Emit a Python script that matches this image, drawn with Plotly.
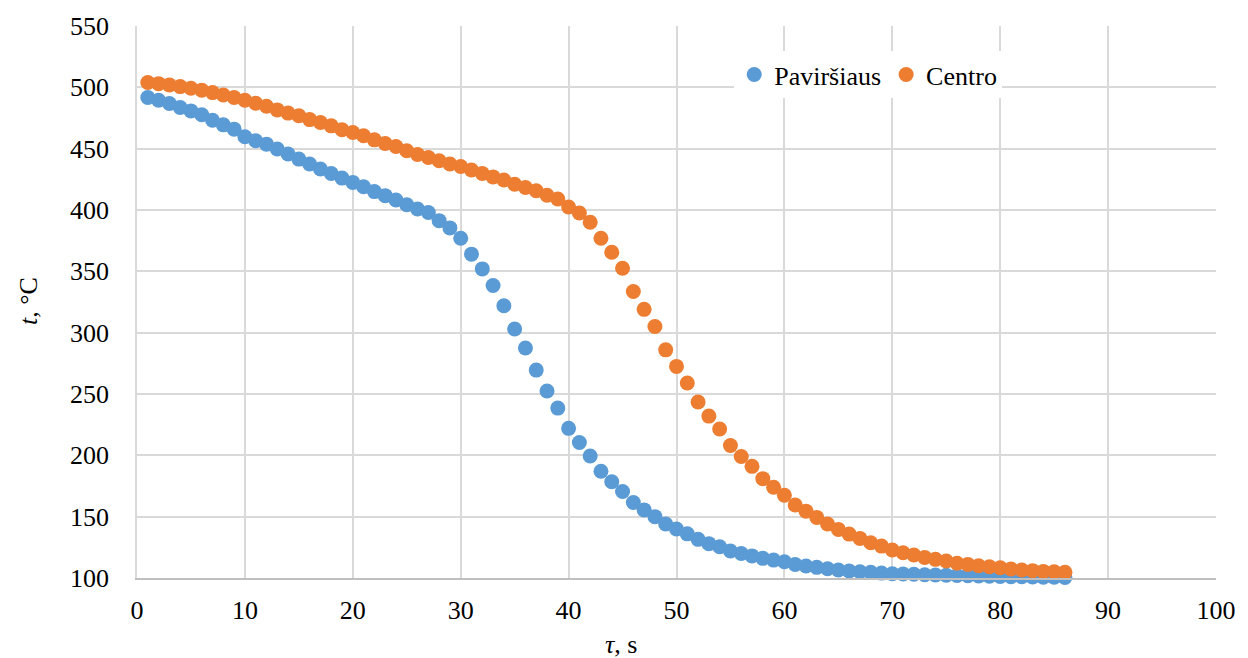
import plotly.graph_objects as go

tau = list(range(1, 87))

pavirsiaus = [
    491.7, 489.5, 486.8, 483.5, 480.8, 477.6, 473.2, 469.4, 465.9, 459.7,
    456.4, 453.7, 449.7, 445.6, 441.5, 437.5, 433.4, 429.8, 426.0, 422.5,
    419.0, 415.0, 411.7, 408.2, 404.3, 400.8, 398.0, 391.3, 385.4, 377.0,
    364.0, 352.0, 338.5, 322.0, 303.0, 287.5, 269.5, 252.5, 238.5, 222.0,
    210.5, 199.5, 187.0, 178.5, 170.5, 161.5, 155.5, 150.0, 144.0, 140.0,
    136.0, 131.5, 128.0, 125.5, 122.0, 120.0, 118.0, 116.0, 114.6, 113.2,
    111.0, 109.8, 108.7, 107.6, 106.5, 105.7, 105.1, 104.6, 104.0, 103.5,
    103.2, 103.0, 102.7, 102.4, 102.2, 102.0, 101.8, 101.6, 101.4, 101.2,
    101.1, 101.0, 100.8, 100.7, 100.6, 100.5,
]

centro = [
    504.0, 503.0, 502.0, 500.6, 499.3, 497.7, 495.7, 493.8, 491.7, 489.5,
    487.0, 484.6, 481.6, 479.0, 476.8, 473.7, 471.3, 468.6, 465.4, 463.2,
    460.5, 457.2, 454.2, 451.8, 448.3, 445.3, 442.9, 440.1, 437.5, 435.5,
    432.6, 429.8, 427.0, 424.4, 421.0, 418.4, 415.7, 412.0, 409.0, 402.5,
    397.6, 390.0, 377.0, 365.5, 352.5, 333.5, 319.0, 305.0, 286.0, 272.5,
    259.0, 243.5, 232.0, 221.5, 208.0, 199.0, 191.0, 181.0, 174.0, 167.5,
    159.5, 154.5, 149.4, 144.0, 139.6, 135.8, 132.3, 128.7, 126.0, 122.8,
    120.6, 118.7, 116.8, 115.2, 113.8, 112.0, 111.1, 110.0, 109.2, 108.4,
    107.3, 106.5, 106.0, 105.4, 105.1, 104.6,
]

x_ticks = list(range(0, 101, 10))
y_ticks = list(range(100, 551, 50))

FONT = "Liberation Serif"
FS = 26

fig = go.Figure()
fig.add_trace(go.Scatter(
    x=tau, y=pavirsiaus, mode="markers", name="Paviršiaus",
    marker=dict(color="#5B9BD5", size=15, line=dict(width=0)),
    cliponaxis=False,
))
fig.add_trace(go.Scatter(
    x=tau, y=centro, mode="markers", name="Centro",
    marker=dict(color="#ED7D31", size=15, line=dict(width=0)),
    cliponaxis=False,
))

fig.update_layout(
    width=1248, height=658,
    margin=dict(l=137, r=26, t=25, b=80),
    paper_bgcolor="white", plot_bgcolor="white",
    font=dict(family=FONT, size=FS, color="#000000"),
    showlegend=True,
    legend=dict(
        orientation="h", x=0.5535, y=0.9545, xanchor="left", yanchor="top",
        bgcolor="white", font=dict(family=FONT, size=FS, color="#000000"),
        itemwidth=30, tracegroupgap=0,
    ),
    xaxis=dict(
        range=[0, 100], tickvals=x_ticks, ticktext=[str(v) for v in x_ticks],
        showgrid=True, gridcolor="#D9D9D9", gridwidth=1.5,
        showline=True, linecolor="#BFBFBF", linewidth=1.5,
        zeroline=False, ticks="outside", ticklen=8, tickcolor="rgba(0,0,0,0)",
        tickfont=dict(family=FONT, size=FS),
    ),
    yaxis=dict(
        range=[100, 550], tickvals=y_ticks, ticktext=[str(v) for v in y_ticks],
        showgrid=True, gridcolor="#D9D9D9", gridwidth=1.5,
        showline=True, linecolor="#D9D9D9", linewidth=1.5,
        zeroline=False, ticks="outside", ticklen=21, tickcolor="rgba(0,0,0,0)",
        tickfont=dict(family=FONT, size=FS),
    ),
    annotations=[
        dict(text="<i>τ</i>, s", xref="paper", yref="paper",
             x=(624 - 137) / 1085, y=(578 - 645) / 553,
             xanchor="center", yanchor="middle", showarrow=False,
             font=dict(family=FONT, size=FS)),
        dict(text="<i>t</i>, °C", xref="paper", yref="paper",
             x=(28 - 137) / 1085, y=(578 - 301) / 553, textangle=-90,
             xanchor="center", yanchor="middle", showarrow=False,
             font=dict(family=FONT, size=FS)),
    ],
)

fig.write_html("out.html")
